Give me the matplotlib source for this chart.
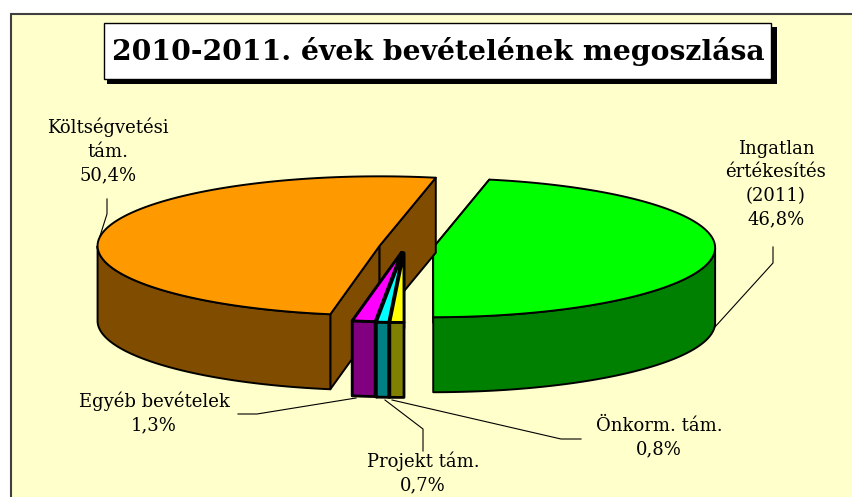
import numpy as np
import matplotlib
matplotlib.use("Agg")
import matplotlib.pyplot as plt
from matplotlib.patches import Polygon, Rectangle

title = "2010-2011. évek bevételének megoszlása"
categories = ["Ingatlan\nértékesítés\n(2011)", "Önkorm. tám.", "Projekt tám.", "Egyéb bevételek", "Költségvetési\ntám."]
shares = [46.8, 0.8, 0.7, 1.3, 50.4]
value_labels = ["46,8%", "0,8%", "0,7%", "1,3%", "50,4%"]
top_colors = ["#00FF00", "#FFFF00", "#00FFFF", "#FF00FF", "#FF9900"]
side_colors = ["#008000", "#808000", "#008080", "#800080", "#804C00"]
explode = [0.102, 0.085, 0.085, 0.078, 0.09]
line_w = [1.4, 2.0, 2.0, 2.0, 1.4]

W, H = 852, 497
CX, CY, A, B, DEPTH = 404.5, 247, 282, 69.5, 75
START = 11.5

label_pos = [(776, 184), (659, 438), (423, 473), (154, 413), (108, 151)]
leaders = [
    [(773, 247), (773, 263), (714, 328)],
    [(581, 439), (561, 439), (392, 400)],
    [(423, 451), (423, 429), (385, 400)],
    [(238, 414), (257, 414), (356, 398)],
    [(107, 199), (107, 214), (100, 236)],
]

plt.rcParams["font.family"] = ["DejaVu Serif"]
fig = plt.figure(figsize=(W / 100, H / 100), dpi=100, facecolor="white")
ax = fig.add_axes([0, 0, 1, 1])
ax.set_xlim(0, W)
ax.set_ylim(H, 0)
ax.axis("off")

ax.add_patch(Rectangle((11, 13.5), W, H, fc="#FFFFCC", ec="#404040", lw=1.5, zorder=0))
ax.add_patch(Rectangle((107, 27), 670, 57, fc="black", ec="none", zorder=5))
ax.add_patch(Rectangle((104, 23), 667, 56, fc="white", ec="black", lw=1, zorder=6))
ax.text(438, 52, title, ha="center", va="center", fontsize=20.3, fontweight="bold",
        color="black", zorder=7)


def pt(cx, cy, theta):
    t = np.radians(theta)
    return np.column_stack([cx + A * np.sin(t), cy - B * np.cos(t)])


def face(xy, color, lw, z):
    ax.add_patch(Polygon(xy, closed=True, fc=color, ec="black", lw=lw, joinstyle="round", zorder=z))


bounds = START + np.concatenate([[0], np.cumsum(shares)]) * 3.6
draw_order = [0, 4, 3, 2, 1]
for rank, i in enumerate(draw_order):
    t0, t1 = bounds[i], bounds[i + 1]
    mid = np.radians((t0 + t1) / 2)
    e = explode[i] * A
    cx = CX + e * np.sin(mid)
    cy = CY - e * np.cos(mid) * B / A
    z = 10 + rank * 5
    down = np.array([0, DEPTH])
    centre = np.array([[cx, cy]])
    lw = line_w[i]
    # radial walls
    for t in (t0, t1):
        p = pt(cx, cy, t)
        if np.cos(np.radians(t)) >= 0 or np.sin(np.radians(t)) < 0:
            face(np.vstack([centre, p, p + down, centre + down]), side_colors[i], lw, z)
    # curved front wall
    tt = np.linspace(t0, t1, 240)
    tt = tt[np.cos(np.radians(tt)) <= 0.0001]
    arc = pt(cx, cy, tt)
    face(np.vstack([arc, (arc + down)[::-1]]), side_colors[i], lw, z + 1)
    # top
    tt = np.linspace(t0, t1, 240)
    face(np.vstack([centre, pt(cx, cy, tt)]), top_colors[i], lw, z + 2)

for pts in leaders:
    xs, ys = zip(*pts)
    ax.plot(xs, ys, color="black", lw=0.8, zorder=40, solid_joinstyle="miter")

for cat, val, (x, y) in zip(categories, value_labels, label_pos):
    ax.text(x, y, cat + "\n" + val, ha="center", va="center", fontsize=13,
            linespacing=1.39, color="black", zorder=41)

fig.savefig("out.png", dpi=100, facecolor="white")
